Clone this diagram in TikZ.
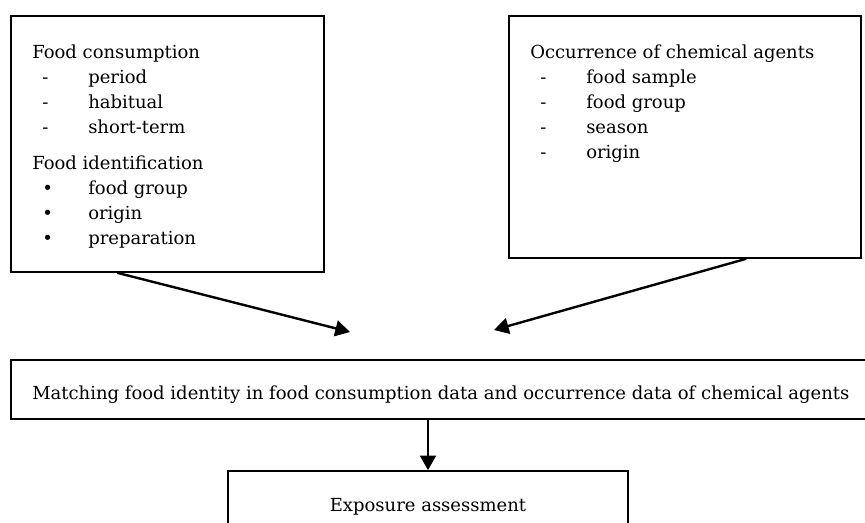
\documentclass[tikz,border=0pt]{standalone}
\usepackage{fontspec}
\setmainfont{DejaVu Serif}
\usetikzlibrary{arrows.meta,positioning,fit,calc}
\tikzset{
  framebox/.style={draw, line width=1.2pt, inner sep=0pt},
  listtext/.style={anchor=north west, align=left, inner sep=0pt,
                   font=\fontsize{13.5}{18.75}\selectfont},
  plaintext/.style={inner sep=0pt, font=\fontsize{13.5}{16}\selectfont},
  arr/.style={-{Triangle[length=11pt,width=12pt]}, line width=1.8pt},
}
\newcommand{\dashitem}[1]{\hspace*{7.5pt}\makebox[34.5pt][l]{-}#1}
\newcommand{\dotitem}[1]{\hspace*{7.5pt}\makebox[34.5pt][l]{\textbullet}#1}

\begin{document}
\begin{tikzpicture}[x=0.75pt,y=-0.75pt]
  \useasboundingbox (0,0) rectangle (865,523);
  % input boxes
  \node[framebox, fit={(11,16) (324,272)}] (consum) {};
  \node[framebox, fit={(509,16) (861,258)}] (occur) {};
  \node[listtext] (consumtxt) at (32,45) {Food consumption\\
    \dashitem{period}\\
    \dashitem{habitual}\\
    \dashitem{short-term}\\[8pt]
    Food identification\\
    \dotitem{food group}\\
    \dotitem{origin}\\
    \dotitem{preparation}};
  \node[listtext] (occurtxt) at (530,45) {Occurrence of chemical agents\\
    \dashitem{food sample}\\
    \dashitem{food group}\\
    \dashitem{season}\\
    \dashitem{origin}};
  % matching and result
  \node[framebox, fit={(11,360) (890,419)}] (match) {};
  \node[plaintext, anchor=base west] (matchtxt) at (32,400)
    {Matching food identity in food consumption data and occurrence data of chemical agents};
  \node[framebox, fit={(228,471) (628,545)}] (expo) {};
  \node[plaintext, anchor=base] (expotxt) at (428,512) {Exposure assessment};
  % connectors
  \coordinate (jl) at (350,332);
  \coordinate (jr) at (494,330);
  \draw[arr] ($(consum.south west)+(107,0)$) -- (jl);
  \draw[arr] ($(occur.south west)+(238,0)$) -- (jr);
  \draw[arr] (expo.north |- match.south) -- (expo.north);
\end{tikzpicture}
\end{document}
